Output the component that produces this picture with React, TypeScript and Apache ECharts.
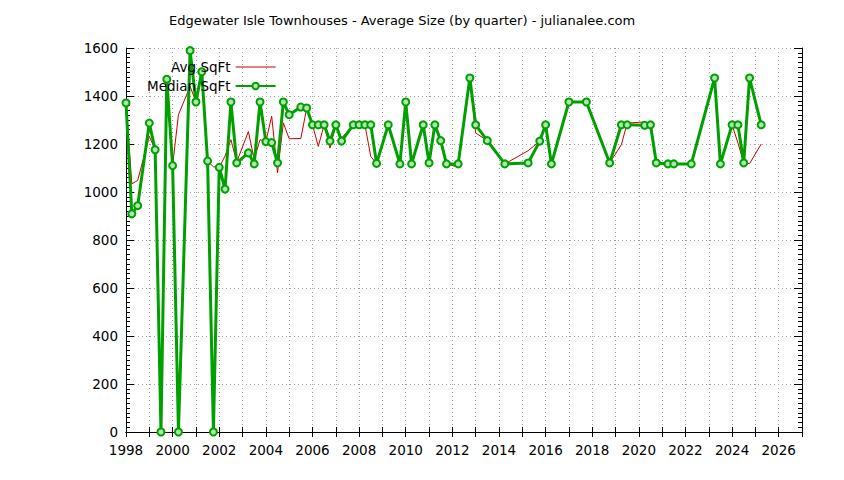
import React, { useEffect, useRef } from 'react';
import * as echarts from 'echarts';

// quarter positions (year + (q-1)/4)
const quarters = [
  1998, 1998.25, 1998.5, 1999, 1999.25, 1999.5, 1999.75, 2000, 2000.25, 2000.75,
  2001, 2001.25, 2001.5, 2001.75, 2002, 2002.25, 2002.5, 2002.75, 2003.25, 2003.5,
  2003.75, 2004, 2004.25, 2004.5, 2004.75, 2005, 2005.5, 2005.75, 2006, 2006.25,
  2006.5, 2006.75, 2007, 2007.25, 2007.75, 2008, 2008.25, 2008.5, 2008.75, 2009.25,
  2009.75, 2010, 2010.25, 2010.75, 2011, 2011.25, 2011.5, 2011.75, 2012.25, 2012.75,
  2013, 2013.5, 2014.25, 2015.25, 2015.75, 2016, 2016.25, 2017, 2017.75, 2018.75,
  2019.25, 2019.5, 2020.25, 2020.5, 2020.75, 2021.25, 2021.5, 2022.25, 2023.25, 2023.5,
  2024, 2024.25, 2024.5, 2024.75, 2025.25,
];

const avgSqft = [
  1371, 1034, 1048, 1232, 1176, 0, 1470, 1110, 1322, 1440,
  1375, 1501, 1129, 1105, 1103, 1150, 1218, 1125, 1252, 1135,
  1218, 1210, 1316, 1080, 1288, 1222, 1223, 1348, 1280, 1190,
  1280, 1183, 1280, 1225, 1280, 1267, 1280, 1148, 1119, 1280,
  1117, 1375, 1117, 1280, 1121, 1280, 1214, 1117, 1103, 1475,
  1246, 1214, 1117, 1172, 1212, 1280, 1117, 1375, 1375, 1121,
  1197, 1287, 1292, 1280, 1121, 1117, 1117, 1117, 1475, 1117,
  1280, 1205, 1121, 1118, 1200,
];

const medianSqft = [
  1371, 909, 943, 1287, 1176, 0, 1470, 1110, 0, 1589,
  1375, 1501, 1129, 0, 1103, 1012, 1375, 1121, 1163, 1117,
  1375, 1210, 1206, 1121, 1375, 1322, 1354, 1350, 1280, 1280,
  1280, 1212, 1280, 1212, 1280, 1280, 1280, 1280, 1119, 1280,
  1117, 1375, 1117, 1280, 1121, 1280, 1214, 1117, 1117, 1475,
  1280, 1214, 1117, 1121, 1212, 1280, 1117, 1375, 1375, 1121,
  1280, 1280, 1278, 1280, 1121, 1117, 1117, 1117, 1475, 1117,
  1280, 1280, 1121, 1475, 1280,
];

const FONT = 'DejaVu Sans';

const App: React.FC = () => {
  const chartRef = useRef<HTMLDivElement>(null);

  useEffect(() => {
    const chart = echarts.init(chartRef.current!, undefined, { renderer: 'svg' });

    const gridLine = { show: true, lineStyle: { color: '#a0a0a0', type: [1, 3] as any, width: 1 } };
    const axisLine = { show: true, lineStyle: { color: '#000', width: 1 } };

    const xCommon = {
      type: 'value' as const,
      min: 1998,
      max: 2027,
      interval: 1,
      axisLine,
      axisTick: { show: true, inside: true, length: 5, lineStyle: { color: '#000' } },
    };
    const yCommon = {
      type: 'value' as const,
      min: 0,
      max: 1600,
      interval: 200,
      axisLine,
      axisTick: { show: true, inside: true, length: 8, lineStyle: { color: '#000' } },
      minorTick: { show: true, splitNumber: 10, length: 4, lineStyle: { color: '#000' } },
    };

    chart.setOption({
      animation: false,
      backgroundColor: '#fff',
      title: {
        text: 'Edgewater Isle Townhouses - Average Size (by quarter) - julianalee.com',
        left: 164,
        top: 9,
        textStyle: { fontFamily: FONT, fontSize: 13, fontWeight: 'normal', color: '#000' },
      },
      legend: {
        orient: 'vertical',
        align: 'right',
        left: 142,
        top: 55,
        itemWidth: 40,
        itemHeight: 8,
        itemGap: 5,
        textStyle: { fontFamily: FONT, fontSize: 13.5, color: '#000' },
        data: [
          { name: 'Avg SqFt', icon: 'path://M0,0h40v1h-40z' },
          { name: 'Median SqFt' },
        ],
      },
      grid: { left: 126, right: 42, top: 48, bottom: 48 },
      xAxis: [
        {
          ...xCommon,
          position: 'bottom',
          splitLine: gridLine,
          axisLabel: {
            margin: 11,
            fontFamily: FONT,
            fontSize: 13.5,
            color: '#000',
            formatter: (v: number) => (v % 2 === 0 && v < 2027 ? String(v) : ''),
          },
        },
        {
          ...xCommon,
          position: 'top',
          splitLine: { show: false },
          axisLabel: { show: false },
        },
      ],
      yAxis: [
        {
          ...yCommon,
          position: 'left',
          splitLine: gridLine,
          axisLabel: {
            margin: 8,
            fontFamily: FONT,
            fontSize: 13.5,
            color: '#000',
            formatter: (v: number) => String(v),
          },
        },
        {
          ...yCommon,
          position: 'right',
          splitLine: { show: false },
          axisLabel: { show: false },
        },
      ],
      series: [
        {
          name: 'Avg SqFt',
          type: 'line',
          xAxisIndex: 0,
          yAxisIndex: 0,
          data: quarters.map((q, i) => [q, avgSqft[i]]),
          symbol: 'none',
          lineStyle: { color: '#cc0000', width: 1 },
          itemStyle: { color: '#cc0000' },
          emphasis: { disabled: true },
        },
        {
          name: 'Median SqFt',
          type: 'line',
          xAxisIndex: 0,
          yAxisIndex: 0,
          data: quarters.map((q, i) => [q, medianSqft[i]]),
          symbol: 'circle',
          symbolSize: 7,
          lineStyle: { color: '#00a000', width: 3 },
          itemStyle: { color: '#b0e4b0', borderColor: '#00a000', borderWidth: 2 },
          emphasis: { disabled: true },
        },
      ],
    });

    return () => {
      chart.dispose();
    };
  }, []);

  return (
    <div
      ref={chartRef}
      style={{ position: 'fixed', left: 0, top: 0, width: '844px', height: '480px' }}
    />
  );
};

export default App;
